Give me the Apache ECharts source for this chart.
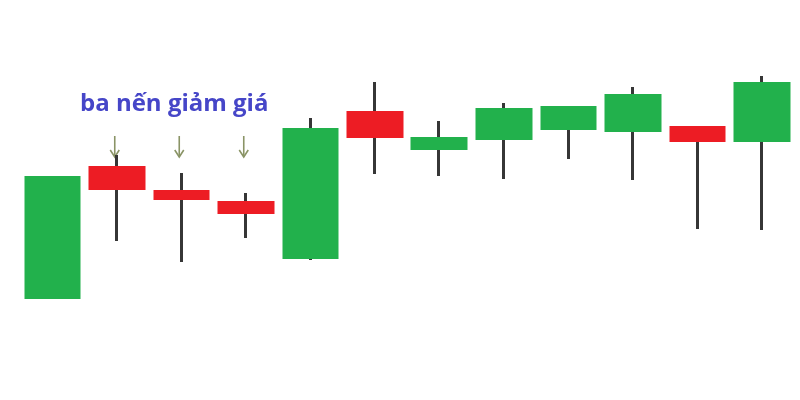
<!DOCTYPE html>
<html>
<head>
<meta charset="utf-8">
<script src="https://cdn.jsdelivr.net/npm/echarts@6/dist/echarts.min.js"></script>
<style>html,body{margin:0;padding:0;background:#fff;}#c{width:800px;height:400px;}</style>
</head>
<body>
<div id="c"></div>
<script>
const categories = ['1','2','3','4','5','6','7','8','9','10','11','12'];
const open  = [101, 234, 210, 199, 141, 289, 250, 260, 270, 268, 274, 258];
const close = [224, 210, 200, 186, 272, 262, 263, 292, 294, 306, 258, 318];
const low   = [101, 159, 138, 162, 140, 226, 224, 221, 241, 220, 171, 170];
const high  = [224, 245, 227, 207, 282, 318, 279, 297, 294, 313, 274, 324];
const titleText = 'ba nến giảm giá';
const arrowIdx = [1, 2, 3];

const UP = '#22B14C', DOWN = '#ED1C24', WICK = '#363636';

// wick layer: zero-height body at the middle of the real body, so only the shadows show
const wickData = categories.map((c, i) => {
  const mid = (open[i] + close[i]) / 2;
  return [mid, mid, low[i], high[i]];
});
const boxData = categories.map((c, i) => [open[i], close[i], Math.min(open[i], close[i]), Math.max(open[i], close[i])]);

const chart = echarts.init(document.getElementById('c'));
chart.setOption({
  animation: false,
  backgroundColor: '#fff',
  grid: { left: 20, right: 6, top: 0, bottom: 0 },
  xAxis: { type: 'category', data: categories, show: false, boundaryGap: true },
  yAxis: { type: 'value', min: 0, max: 400, show: false },
  series: [
    {
      type: 'candlestick', data: wickData, barWidth: 1, z: 1,
      itemStyle: { color: WICK, color0: WICK, borderColor: WICK, borderColor0: WICK, borderColorDoji: WICK, borderWidth: 3 }
    },
    {
      type: 'candlestick', data: boxData, barWidth: 57, z: 2,
      itemStyle: { color: UP, color0: DOWN, borderColor: UP, borderColor0: DOWN, borderWidth: 0 }
    }
  ]
});

const graphics = [{
  type: 'text', left: 80, top: 92,
  style: { text: titleText, fill: '#4646C8', font: 'bold 24px "Open Sans"', textAlign: 'left' }
}];
arrowIdx.forEach(i => {
  const x = chart.convertToPixel({ xAxisIndex: 0 }, categories[i]) - 2;
  graphics.push({ type: 'line', shape: { x1: x, y1: 136, x2: x, y2: 157 }, style: { stroke: '#8A9466', lineWidth: 1.6 } });
  graphics.push({ type: 'polyline', shape: { points: [[x - 4.5, 150], [x, 157], [x + 4.5, 150]] }, style: { stroke: '#8A9466', lineWidth: 1.6, fill: null } });
});
chart.setOption({ graphic: graphics });
</script>
</body>
</html>
